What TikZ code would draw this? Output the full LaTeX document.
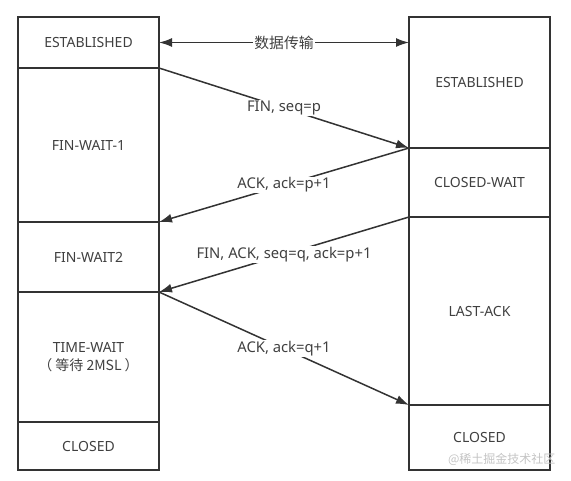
\documentclass[tikz,border=0pt]{standalone}
\usepackage{fontspec}
\setmainfont{Noto Sans}
\newfontfamily\cjk{Noto Sans CJK SC}
\usetikzlibrary{positioning,arrows.meta}
\definecolor{linegray}{HTML}{333333}
\definecolor{textgray}{HTML}{404040}
\definecolor{markgray}{HTML}{C4C4C4}

\begin{document}
\begin{tikzpicture}[
        x=1pt, y=-1pt,
        >={Latex[length=13pt,width=9pt]},
        font=\fontsize{14}{18}\selectfont,
        statebox/.style={draw=linegray, line width=1.2pt, text=textgray, minimum width=141pt, outer sep=0pt, inner sep=0pt, align=center},
        msgarrow/.style={->, draw=linegray, line width=1.5pt},
        msglabel/.style={midway, fill=white, text=textgray, inner sep=1pt, font=\fontsize{14.8}{18}\selectfont}
    ]
    \useasboundingbox (0,0) rectangle (571,480);
    \def\boxtop{17};
    \def\clientx{18};
    \def\serverx{409};

    %% Client side

    \node[statebox, minimum height=51pt, anchor=north west] (cest) at (\clientx,\boxtop) {ESTABLISHED};
    \node[statebox, minimum height=154pt, below=0pt of cest] (cfw1) {FIN-WAIT-1};
    \node[statebox, minimum height=70pt, below=0pt of cfw1] (cfw2) {FIN-WAIT2};
    \node[statebox, minimum height=130pt, below=0pt of cfw2] (ctw) {TIME-WAIT\\{\cjk （ 等待 2MSL ）}};
    \node[statebox, minimum height=48pt, below=0pt of ctw] (ccl) {CLOSED};

    %% Server side

    \node[statebox, minimum height=131pt, anchor=north west] (sest) at (\serverx,\boxtop) {ESTABLISHED};
    \node[statebox, minimum height=69pt, below=0pt of sest] (scw) {CLOSED-WAIT};
    \node[statebox, minimum height=188pt, below=0pt of scw] (sla) {LAST-ACK};
    \node[statebox, minimum height=65pt, below=0pt of sla] (scl) {CLOSED};

    %% Messages

    \draw[msgarrow, <->] (cest.east) -- (cest.east -| sest.west) node[msglabel] {\cjk 数据传输};
    \draw[msgarrow] (cest.south east) -- (sest.south west) node[msglabel] {FIN, seq=p};
    \draw[msgarrow] (sest.south west) -- (cfw1.south east) node[msglabel] {ACK, ack=p+1};
    \draw[msgarrow] (scw.south west) -- (cfw2.south east) node[msglabel] {FIN, ACK, seq=q, ack=p+1};
    \draw[msgarrow] (cfw2.south east) -- (sla.south west) node[msglabel] {ACK, ack=q+1};

    \node[font=\cjk\fontsize{12}{14}\selectfont, text=markgray, anchor=east] (mark) at ([xshift=9pt, yshift=11pt]scl.south east) {@稀土掘金技术社区};

\end{tikzpicture}
\end{document}
